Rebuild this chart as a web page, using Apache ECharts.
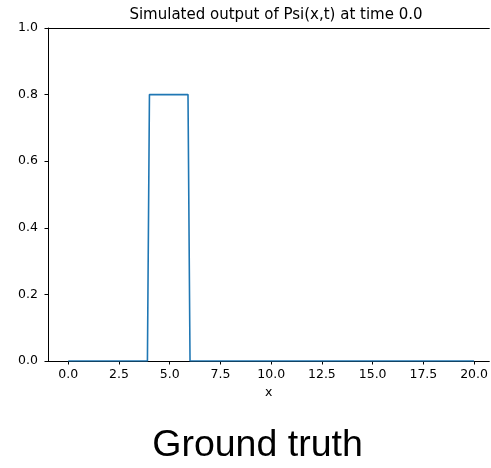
<!DOCTYPE html>
<html>
<head>
<meta charset="utf-8">
<script src="https://cdn.jsdelivr.net/npm/echarts@6/dist/echarts.min.js"></script>
<style>html,body{margin:0;padding:0;background:#fff;}#c{width:491px;height:468px;}</style>
</head>
<body>
<div id="c"></div>
<script>
// Key points of the sampled pulse (x, Psi)
const xValues = [0, 3.9, 4.0, 5.9, 6.0, 20];
const psiValues = [0, 0, 0.8, 0.8, 0, 0];
const xTicks = [0, 2.5, 5, 7.5, 10, 12.5, 15, 17.5, 20];
const yTicks = [0, 0.2, 0.4, 0.6, 0.8, 1.0];

const font = 'DejaVu Sans';
const X_MIN = -1, X_MAX = 20.75;
const chart = echarts.init(document.getElementById('c'), null, {renderer: 'canvas'});
chart.setOption({
  animation: false,
  backgroundColor: '#fff',
  title: {
    text: 'Simulated output of Psi(x,t) at time 0.0',
    left: 271, top: 3, textAlign: 'center',
    textStyle: {fontFamily: font, fontSize: 15, fontWeight: 'normal', color: '#000'}
  },
  grid: {left: 48, right: 0, top: 28, bottom: 107, show: false},
  xAxis: [{
    type: 'value', min: X_MIN, max: X_MAX,
    name: 'x', nameLocation: 'middle', nameGap: 25,
    nameTextStyle: {fontFamily: font, fontSize: 12.5, color: '#000'},
    axisLine: {show: true, onZero: false, lineStyle: {color: '#000', width: 1}},
    axisTick: {show: true, length: 3.5, lineStyle: {color: '#000'}, customValues: xTicks},
    axisLabel: {fontFamily: font, fontSize: 12.5, color: '#000', margin: 7, customValues: xTicks,
      formatter: v => v.toFixed(1)},
    splitLine: {show: false}
  }, {
    type: 'value', min: X_MIN, max: X_MAX, position: 'top',
    axisLine: {show: true, onZero: false, lineStyle: {color: '#000', width: 1}},
    axisTick: {show: false}, axisLabel: {show: false}, splitLine: {show: false}
  }],
  yAxis: {
    type: 'value', min: 0, max: 1, interval: 0.2,
    axisLine: {show: true, onZero: false, lineStyle: {color: '#000', width: 1}},
    axisTick: {show: true, length: 3.5, lineStyle: {color: '#000'}, customValues: yTicks},
    axisLabel: {fontFamily: font, fontSize: 12.5, color: '#000', margin: 10, customValues: yTicks,
      formatter: v => v.toFixed(1)},
    splitLine: {show: false}
  },
  series: [{
    type: 'line',
    xAxisIndex: 0,
    data: xValues.map((x, i) => [x, psiValues[i]]),
    showSymbol: false, symbol: 'none',
    lineStyle: {color: '#1f77b4', width: 1.6},
    clip: true
  }],
  graphic: [{
    type: 'text', x: 257.5, y: 446,
    style: {text: 'Ground truth', fontFamily: 'Liberation Sans', fontSize: 37.5, fill: '#000', align: 'center', verticalAlign: 'middle'}
  }]
});
</script>
</body>
</html>
